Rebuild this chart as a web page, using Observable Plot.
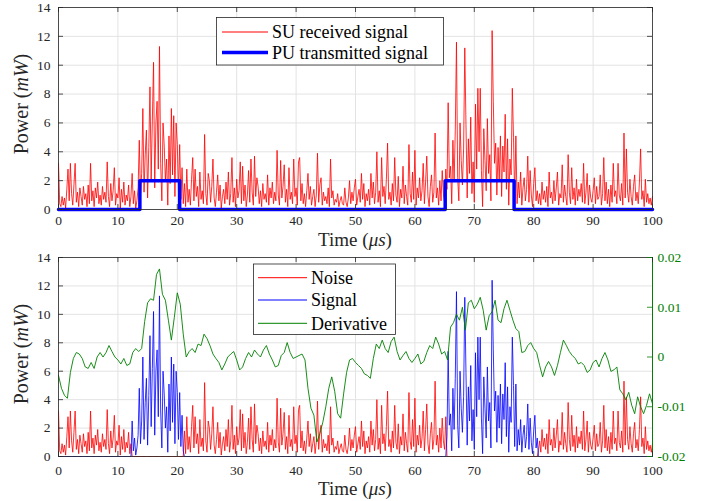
<!DOCTYPE html>
<html><head><meta charset="utf-8">
<script src="https://cdn.jsdelivr.net/npm/d3@7"></script>
<script src="https://cdn.jsdelivr.net/npm/@observablehq/plot@0.6"></script>
<style>
body{margin:0;background:#fff;font-family:"Liberation Serif",serif;}
#wrap{width:712px;height:501px;}
svg{display:block}
</style></head><body><div id="wrap"></div>
<script>
// ---- data ----
const sampleStep = 0.2; // µs between received-power samples
const receivedPower = [
3.2,0.4,0.2,0.9,0.3, 0.8,0.1,1.4,2.8,0.6, 3.2,1.1,0.3,1.7,3.2, 0.5,1.2,0.2,1.5,0.9, 0.3,1.6,0.7,1.1,0.2,
1.7,0.4,3.2,0.6,1.3, 0.2,1.5,0.8,1.9,0.4, 1.0,0.3,1.6,0.7,1.2, 0.5,3.3,0.9,0.2,1.8, 0.6,1.3,2.9,0.3,1.1,
0.8,2.2,0.1,1.4,0.5, 1.9,0.3,1.0,0.6,1.7, 0.2,0.9,2.5,0.4,1.3, 0.1,0.6,1.5,4.8,0.9, 2.5,7.0,1.2,3.8,5.5,
0.8,4.3,8.5,2.1,6.2, 10.2,1.5,6.0,7.5,2.8, 11.3,3.2,0.6,6.0,4.4, 2.0,3.5,0.3,5.1,1.8, 7.0,2.4,6.5,0.9,6.0,
4.5,1.2,4.5,0.7,2.9, 0.4,1.8,0.2,2.8,0.5, 1.4,0.3,2.1,3.6,0.6, 2.8,0.9,1.6,0.2,2.6, 0.7,1.3,0.4,5.2,1.1,
0.3,2.5,2.0,0.5,1.6, 3.5,0.8,0.2,1.2,2.4, 0.6,1.7,0.1,0.9,1.4, 0.4,1.9,0.7,2.6,0.3, 1.1,3.6,0.5,1.5,0.2,
2.1,0.8,1.3,3.3,0.4, 3.0,0.6,1.7,0.2,1.0, 2.7,0.5,3.5,1.2,0.3, 3.7,0.9,2.2,1.6,0.4, 1.3,0.2,1.8,0.7,1.1,
0.5,2.4,0.3,1.5,0.8, 1.9,0.4,1.2,0.6,4.1, 1.0,0.3,3.4,0.8,1.6, 3.1,0.5,1.4,0.2,2.9, 0.7,1.2,0.4,3.5,0.9,
1.5,0.3,3.3,3.6,0.6, 1.8,0.4,1.1,0.2,1.3, 2.5,0.7,1.6,0.3,0.9, 1.4,0.2,1.0,3.9,0.5, 1.7,2.2,0.3,1.2,0.6,
0.9,0.4,1.5,0.2,3.5, 0.8,1.3,0.3,0.7,0.5, 1.1,0.2,0.6,0.9,0.4, 0.3,1.5,0.5,0.2,0.8, 2.0,0.4,1.2,0.6,1.5,
2.1,0.3,0.9,1.4,0.5, 2.5,0.7,1.8,0.2,1.1, 0.6,1.4,0.3,2.5,0.8, 1.9,0.4,1.2,4.0,0.5, 1.3,0.2,3.6,0.9,1.6,
0.4,2.1,4.6,0.7,1.2, 0.3,1.8,0.6,3.6,1.0, 0.5,2.3,0.2,1.4,0.8, 3.0,0.4,1.7,0.9,0.3, 4.5,1.1,0.5,2.6,0.7,
4.1,0.3,1.5,0.8,2.2, 0.6,1.3,3.2,0.4,1.9, 3.7,0.9,0.2,1.6,2.4, 0.5,1.2,5.3,0.8,1.5, 0.3,2.0,0.6,2.7,1.1,
0.5,2.8,1.4,7.4,2.2, 3.0,0.4,4.8,1.9,5.5, 11.6,2.2,0.6,6.0,3.4, 1.7,4.2,11.2,5.9,0.8, 4.9,2.5,6.4,1.1,3.3,
0.5,7.3,2.8,8.4,4.0, 8.4,2.7,0.2,5.6,3.4, 1.3,6.3,2.5,3.8,0.6, 12.4,7.5,3.2,4.6,1.0, 4.3,2.0,5.1,0.9,4.4,
2.6,6.6,1.4,4.9,0.3, 3.5,2.4,8.4,5.0,0.7, 5.1,0.4,1.9,0.8,2.6, 0.3,1.5,2.2,0.6,1.4, 3.7,0.5,2.7,1.0,0.2,
1.8,2.9,0.6,1.3,0.4, 1.1,0.3,1.9,0.7,1.3, 0.5,1.6,0.2,2.6,0.8, 1.2,0.4,2.0,0.6,1.5, 2.6,0.3,1.1,0.8,3.1,
0.5,1.7,0.9,0.3,3.8, 1.2,0.4,2.9,0.7,1.5, 0.3,2.1,0.6,1.4,0.9, 1.8,0.5,3.2,0.4,1.2, 2.5,0.3,1.7,0.8,0.5,
1.3,2.2,0.4,1.6,0.7, 0.9,2.4,0.3,1.1,3.6, 0.6,1.9,0.4,1.4,0.2, 1.7,0.5,3.2,0.9,1.3, 0.4,3.2,1.0,0.6,1.8,
0.3,5.3,0.8,4.2,1.2, 0.5,2.1,0.9,0.3,1.6, 2.4,0.6,1.2,0.4,1.9, 4.2,0.7,1.3,0.2,2.1, 0.5,1.1,0.4,0.8,0.3,
0.9
];
// PU transmitted power: level starting at each edge time
const puEdgeTimes = [0, 13.7, 20.4, 65.1, 76.7, 100];
const puLevels    = [0, 2,    0,    2,    0,    0];
// windows in which the lower panel labels the samples as "Signal"
const signalWindows = [[12.4, 21.0], [65.4, 80.6]];
// derivative (right axis), sampled every 0.5 µs
const derivStep = 0.5;
const derivative = [
-0.0037,-0.0063,-0.0077,-0.0083,-0.0031,-0.0003,0.0009,0.0006,-0.0003,-0.0020,
-0.0023,-0.0011,-0.0023,0,0.0009,0,0.0009,0.0023,0.0011,0,
-0.0006,-0.0014,-0.0003,-0.0017,-0.0014,0.0009,0.0017,0.0011,0.0017,0.0071,
0.0109,0.0117,0.0114,0.0166,0.0177,0.0126,0.0114,0.0074,0.0034,0.0080,
0.0129,0.0106,0.0046,0,0.0011,0.0017,0.0009,0.0026,0.0023,0.0046,
0.0037,0.0023,0.0006,-0.0003,-0.0011,-0.0026,-0.0014,0,0.0006,0.0011,
-0.0006,-0.0026,-0.0020,-0.0003,0.0009,0,0.0014,0.0006,0,0.0014,
0.0023,0.0006,-0.0006,-0.0020,-0.0017,0.0003,0.0009,0.0029,0.0009,-0.0003,
0,0.0003,0.0006,-0.0006,-0.0063,-0.0103,-0.0117,-0.0171,-0.0154,-0.0131,
-0.0100,-0.0063,-0.0040,-0.0069,-0.0114,-0.0123,-0.0074,-0.0031,-0.0006,-0.0003,
-0.0011,-0.0017,-0.0023,-0.0034,-0.0037,-0.0043,-0.0003,0.0026,0.0017,0.0034,
0.0017,0.0009,0.0031,0.0040,0.0011,-0.0006,0.0003,0.0011,-0.0003,-0.0011,
-0.0003,0.0006,-0.0014,-0.0009,0.0009,0.0023,0.0017,0.0040,0.0026,0.0006,
0.0011,-0.0006,0.0060,0.0069,0.0086,0.0074,0.0100,0.0054,0.0109,0.0114,
0.0097,0.0106,0.0120,0.0094,0.0054,0.0083,0.0091,0.0114,0.0074,0.0069,
0.0097,0.0114,0.0094,0.0074,0.0057,0.0051,0.0009,0.0011,0.0023,0.0029,
0.0017,0.0009,-0.0017,-0.0040,-0.0020,-0.0009,-0.0020,-0.0037,-0.0017,0.0009,
0.0034,0.0023,0.0011,0.0003,-0.0003,-0.0014,-0.0011,-0.0017,-0.0031,-0.0026,
-0.0011,-0.0006,-0.0020,-0.0003,0.0009,-0.0006,-0.0029,-0.0026,-0.0020,-0.0066,
-0.0074,-0.0086,-0.0071,-0.0097,-0.0114,-0.0080,-0.0100,-0.0114,-0.0097,-0.0074,
-0.0094
];
const xTicks = [0,10,20,30,40,50,60,70,80,90,100];
const yTicks = [0,2,4,6,8,10,12,14];
const derivTicks = [-0.02,-0.01,0,0.01,0.02];
const xDomain = [0,100], yDomain = [0,14], derivDomain = [-0.02,0.02];

// ---- tables ----
const rx = receivedPower.map((v,i)=>({t:+(i*sampleStep).toFixed(2), v}));
const pu = puEdgeTimes.map((t,i)=>({t, v:puLevels[i]}));
const inSignal = t => signalWindows.some(([a,b])=>t>=a && t<=b);
const noise = rx.map(d=>({t:d.t, v: inSignal(d.t) ? 0 : d.v}));
const sig = rx.map(d=>({t:d.t, v: inSignal(d.t) ? d.v : 0}));
const toLeft = d3.scaleLinear(derivDomain, yDomain);
const der = derivative.map((d,i)=>({t:i*derivStep, d}));

const RED="#ff0000", BLUE="#0000ff", GREEN="#008000", AX="#262626", GRID="#e3e3e3";
const W=712, ML=58, MR=60;
const font = "Liberation Serif";

function ticksMarks(innerH, innerW){
  const len=5;
  return [
    Plot.tickX(xTicks,{x:d=>d, stroke:AX, strokeWidth:0.8, insetTop:innerH-len}),
    Plot.tickX(xTicks,{x:d=>d, stroke:AX, strokeWidth:0.8, insetBottom:innerH-len}),
    Plot.tickY(yTicks,{y:d=>d, stroke:AX, strokeWidth:0.8, insetRight:innerW-len}),
  ];
}

function addLabels(svg, yCenter, xBase){
  const s = d3.select(svg);
  const tx = s.append("text").attr("x", (ML + W - MR)/2).attr("y", xBase)
    .attr("text-anchor","middle").attr("font-family",font).attr("font-size",19).attr("fill",AX);
  tx.append("tspan").text("Time (");
  tx.append("tspan").attr("font-style","italic").text("μs");
  tx.append("tspan").text(")");
  const ty = s.append("text").attr("transform",`translate(28,${yCenter}) rotate(-90)`)
    .attr("text-anchor","middle").attr("font-family",font).attr("font-size",20).attr("fill",AX);
  ty.append("tspan").text("Power (");
  ty.append("tspan").attr("font-style","italic").text("mW");
  ty.append("tspan").text(")");
}

function addLegend(svg, box, entries){
  const s = d3.select(svg);
  const g = s.append("g");
  g.append("rect").attr("x",box.x).attr("y",box.y).attr("width",box.w).attr("height",box.h)
    .attr("fill","#fff").attr("stroke",AX).attr("stroke-width",0.8);
  entries.forEach(e=>{
    g.append("line").attr("x1",box.lx1).attr("x2",box.lx2).attr("y1",e.y).attr("y2",e.y)
      .style("stroke",e.color).attr("stroke-width",e.w);
    g.append("text").attr("x",box.tx).attr("y",e.y).attr("dy","0.35em").attr("text-anchor","start")
      .attr("font-family",font).attr("font-size",18).attr("fill","#000").text(e.label);
  });
}

const style = {fontFamily:font, fontSize:"13.5px", color:AX, background:"transparent", overflow:"visible"};

// ---- top panel ----
const H1=250, MT1=7, MB1=41;
const topChart = Plot.plot({
  width:W, height:H1, marginLeft:ML, marginRight:MR, marginTop:MT1, marginBottom:MB1,
  x:{domain:xDomain}, y:{domain:yDomain}, style,
  marks:[
    Plot.gridX(xTicks,{stroke:GRID, strokeOpacity:1}),
    Plot.gridY(yTicks,{stroke:GRID, strokeOpacity:1}),
    Plot.line(rx,{x:"t", y:"v", stroke:RED, strokeWidth:0.8}),
    Plot.line(pu,{x:"t", y:"v", curve:"step-after", stroke:BLUE, strokeWidth:3.5}),
    Plot.frame({stroke:AX, strokeWidth:0.8}),
    ...ticksMarks(H1-MT1-MB1, W-ML-MR),
    Plot.tickY(yTicks,{y:d=>d, stroke:AX, strokeWidth:0.8, insetLeft:W-ML-MR-5}),
    Plot.axisX(xTicks,{tickSize:0, tickPadding:6, label:null, fill:AX}),
    Plot.axisY(yTicks,{tickSize:0, tickPadding:8, label:null, fill:AX}),
  ]
});
addLabels(topChart, 104, 246);
addLegend(topChart, {x:216.5,y:17.5,w:227,h:47.5,lx1:222,lx2:268,tx:272},
  [{y:32,color:RED,w:1.2,label:"SU received signal"},{y:52.5,color:BLUE,w:3.5,label:"PU transmitted signal"}]);

// ---- bottom panel ----
const H2=251, MT2=7, MB2=45;
const bottomChart = Plot.plot({
  width:W, height:H2, marginLeft:ML, marginRight:MR, marginTop:MT2, marginBottom:MB2,
  x:{domain:xDomain}, y:{domain:yDomain}, style,
  marks:[
    Plot.gridX(xTicks,{stroke:GRID, strokeOpacity:1}),
    Plot.gridY(yTicks,{stroke:GRID, strokeOpacity:1}),
    Plot.line(noise,{x:"t", y:"v", stroke:RED, strokeWidth:0.8}),
    Plot.line(sig,{x:"t", y:"v", stroke:BLUE, strokeWidth:0.8}),
    Plot.line(der,{x:"t", y:d=>toLeft(d.d), stroke:GREEN, strokeWidth:0.9}),
    Plot.frame({stroke:AX, strokeWidth:0.8}),
    Plot.ruleX([xDomain[1]],{stroke:GREEN, strokeWidth:0.9}),
    ...ticksMarks(H2-MT2-MB2, W-ML-MR),
    Plot.tickY(derivTicks,{y:d=>toLeft(d), stroke:GREEN, strokeWidth:0.8, insetLeft:W-ML-MR-5}),
    Plot.axisX(xTicks,{tickSize:0, tickPadding:9, label:null, fill:AX}),
    Plot.axisY(yTicks,{tickSize:0, tickPadding:8, label:null, fill:AX}),
    Plot.axisY({anchor:"right", ticks:derivTicks.map(toLeft), tickSize:0, tickPadding:5, label:null, fill:GREEN,
      tickFormat:v=>String(+toLeft.invert(v).toFixed(2))}),
  ]
});
addLabels(bottomChart, 104, 245);
addLegend(bottomChart, {x:253.5,y:14,w:142,h:70.5,lx1:258,lx2:307,tx:311},
  [{y:27.7,color:RED,w:1,label:"Noise"},{y:50,color:BLUE,w:1,label:"Signal"},{y:73.3,color:GREEN,w:1,label:"Derivative"}]);

const wrap = document.getElementById("wrap");
wrap.appendChild(topChart);
wrap.appendChild(bottomChart);
</script></body></html>
